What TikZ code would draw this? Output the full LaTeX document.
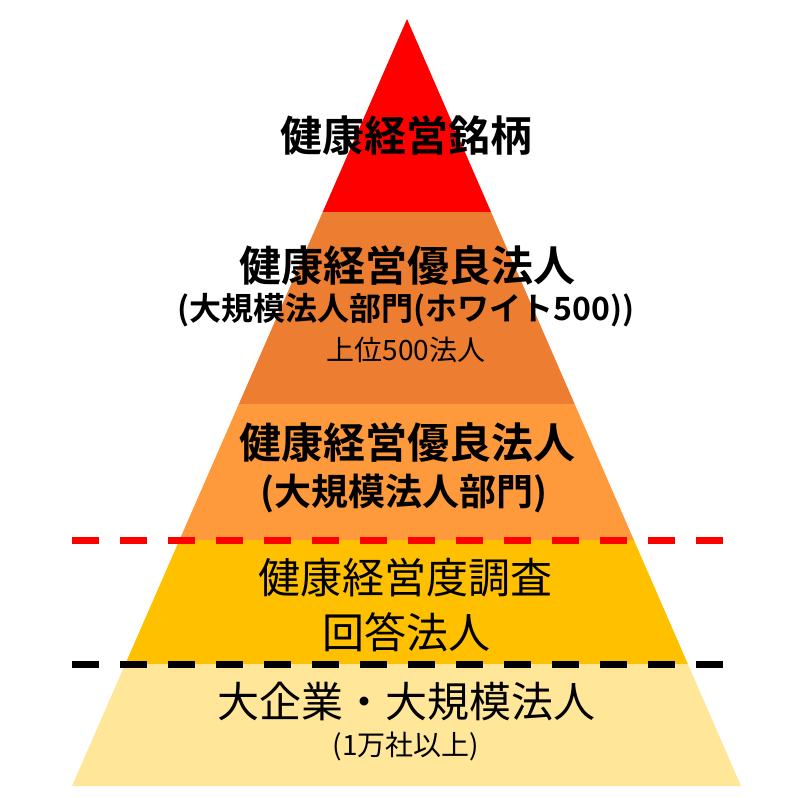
\documentclass[tikz,border=0pt]{standalone}
\usepackage{fontspec}
\setmainfont{Noto Sans CJK JP}[BoldFont={Noto Sans CJK JP Bold}]
\definecolor{cRed}{HTML}{FF0000}
\definecolor{cOrange}{HTML}{ED7D31}
\definecolor{cLightOrange}{HTML}{FF9A3C}
\definecolor{cYellow}{HTML}{FFC000}
\definecolor{cPale}{HTML}{FFE699}
\tikzset{
  big/.style={font=\fontsize{42}{48}\selectfont, inner sep=0pt},
  bigb/.style={font=\fontsize{42}{48}\selectfont\bfseries, inner sep=0pt},
  midb/.style={font=\fontsize{32}{38}\selectfont\bfseries, inner sep=0pt},
  parb/.style={font=\fontsize{37}{42}\selectfont\bfseries, inner sep=0pt},
  small/.style={font=\fontsize{28}{32}\selectfont, inner sep=0pt},
  sepline/.style={line width=7pt, dash pattern=on 27pt off 21pt}
}
\begin{document}
\begin{tikzpicture}[x=1pt,y=-1pt]
\useasboundingbox (0,0) rectangle (809,798);
\coordinate (apex) at (407,19);
\coordinate (bl) at (72,786);
\coordinate (br) at (741,786);
\begin{scope}
  \clip (apex) -- (br) -- (bl) -- cycle;
  \fill[cRed] (0,0) rectangle (809,212);
  \fill[cOrange] (0,212) rectangle (809,404);
  \fill[cLightOrange] (0,404) rectangle (809,540);
  \fill[cYellow] (0,540) rectangle (809,664);
  \fill[cPale] (0,664) rectangle (809,798);
\end{scope}
\coordinate (r1) at (72,540);
\coordinate (r2) at (724,540);
\coordinate (k1) at (72,664);
\coordinate (k2) at (724,664);
\draw[sepline, cRed] (r1) -- (r2);
\draw[sepline, black] (k1) -- (k2);

\node[bigb] (t1) at (406,136) {健康経営銘柄};
\node[bigb] (t2a) at (407,266) {健康経営優良法人};
\node[midb] (t2b) at (406,310) {(大規模法人部門(ホワイト500))};
\node[small] (t2c) at (406,350) {上位500法人};
\node[bigb] (t3a) at (407,443) {健康経営優良法人};
\node[parb] (t3b) at (404,494) {(大規模法人部門)};
\node[big] (t4a) at (405,578) {健康経営度調査};
\node[big] (t4b) at (406,632) {回答法人};
\node[big] (t5a) at (406,702) {大企業・大規模法人};
\node[small] (t5b) at (406,746) {(1万社以上)};
\end{tikzpicture}
\end{document}
